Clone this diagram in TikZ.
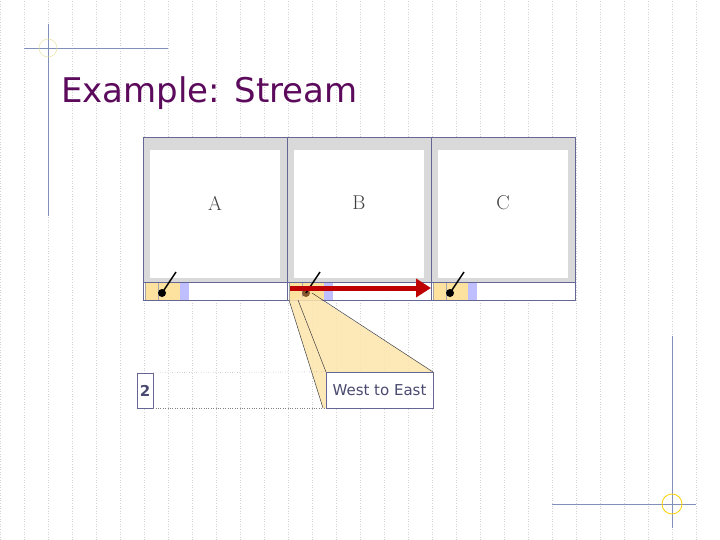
\documentclass[tikz,border=0pt]{standalone}
\usepackage{fontspec}
\usetikzlibrary{arrows.meta}
\newfontfamily\sans{DejaVu Sans}
\definecolor{ttl}{HTML}{5C0A5C}
\definecolor{decoc}{HTML}{8090B8}
\definecolor{txt}{HTML}{4A4A70}
\begin{document}
\begin{tikzpicture}[x=1pt,y=-1pt,
  frame/.style={draw=black!70!blue!60, line width=0.8pt},
  ycell/.style={fill=yellow!40!orange!35, draw=gray!70, line width=0.4pt},
  bcell/.style={fill=blue!25, draw=none},
  deco/.style={draw=decoc, line width=0.9pt},
  lab/.style={text=black!75},
  pin/.style={line width=1.4pt, black}]
\useasboundingbox (0,0) rectangle (720,540);
\fill[white] (0,0) rectangle (720,540);
\draw[gray!35, dotted, line width=0.6pt, step=24] (0,0) grid (720,540);
% decorations
\draw[deco] (48,24) -- (48,216); \draw[deco] (24,48) -- (168,48);
\draw[yellow!60!gray!50, line width=0.5pt] (48,48) circle (9);
\draw[deco] (672,336) -- (672,528); \draw[deco] (552,504) -- (696,504);
\draw[yellow!70!orange, line width=0.8pt] (672,504) circle (10);
\node[anchor=base west, text=ttl, font=\sans\fontsize{34}{34}\selectfont, inner sep=0] (title) at (61,103) {Example: Stream};
% panels
\foreach \x/\n in {143/A,287/B,431/C}{
  \fill[gray!30] (\x,137) rectangle ++(144,145);
  \fill[white] (\x+7,150) rectangle ++(130,128);
  \fill[white] (\x,282) rectangle ++(144,18);
  \fill[ycell] (\x+2,282) rectangle ++(13,18);
  \fill[ycell] (\x+15,282) rectangle ++(22,18);
  \fill[bcell] (\x+37,282) rectangle ++(9,18);
  \draw[frame] (\x,137) rectangle ++(144,163);
  \draw[frame] (\x,282) -- ++(144,0);
  \node[lab, font=\rmfamily\fontsize{20}{20}\selectfont] (p\n) at (\x+72,203) {\n};
}
\fill[pin] (162,293) circle (4); \draw[pin] (162,293) -- (176,272);
\fill[pin] (450,293) circle (4); \draw[pin] (450,293) -- (464,272);
% callout
\fill[yellow!40!orange!30, opacity=0.85] (289,300) -- (323,408) -- (433,408) -- (433,372) -- (312,294) -- cycle;
\draw[gray!50!black, line width=0.5pt] (289,300) -- (323,408);
\draw[gray!50!black, line width=0.5pt] (298,300) -- (326,372);
\draw[gray!50!black, line width=0.5pt] (312,293) -- (433,372);
\fill[brown!70!black] (306,293) circle (4); \draw[pin] (306,293) -- (320,272);
\draw[red!75!black, line width=5pt, -{Triangle[length=15pt,width=18pt]}] (290,288) -- (431,288);
\node[draw=black!70!blue!60, fill=white, minimum width=107pt, minimum height=36pt, inner sep=0, font=\sans\fontsize{15}{15}\selectfont, text=txt] (we) at (379.5,390) {West to East};
\node[draw=black!70!blue!60, fill=white, minimum width=16pt, minimum height=35pt, inner sep=0, font=\sans\bfseries\fontsize{15}{15}\selectfont, text=txt] (two) at (145,390.5) {2};
\draw[dotted, gray] (two.north east) -- (we.north west);
\draw[dotted, gray] (two.south east) -- (we.south west);
\end{tikzpicture}
\end{document}
